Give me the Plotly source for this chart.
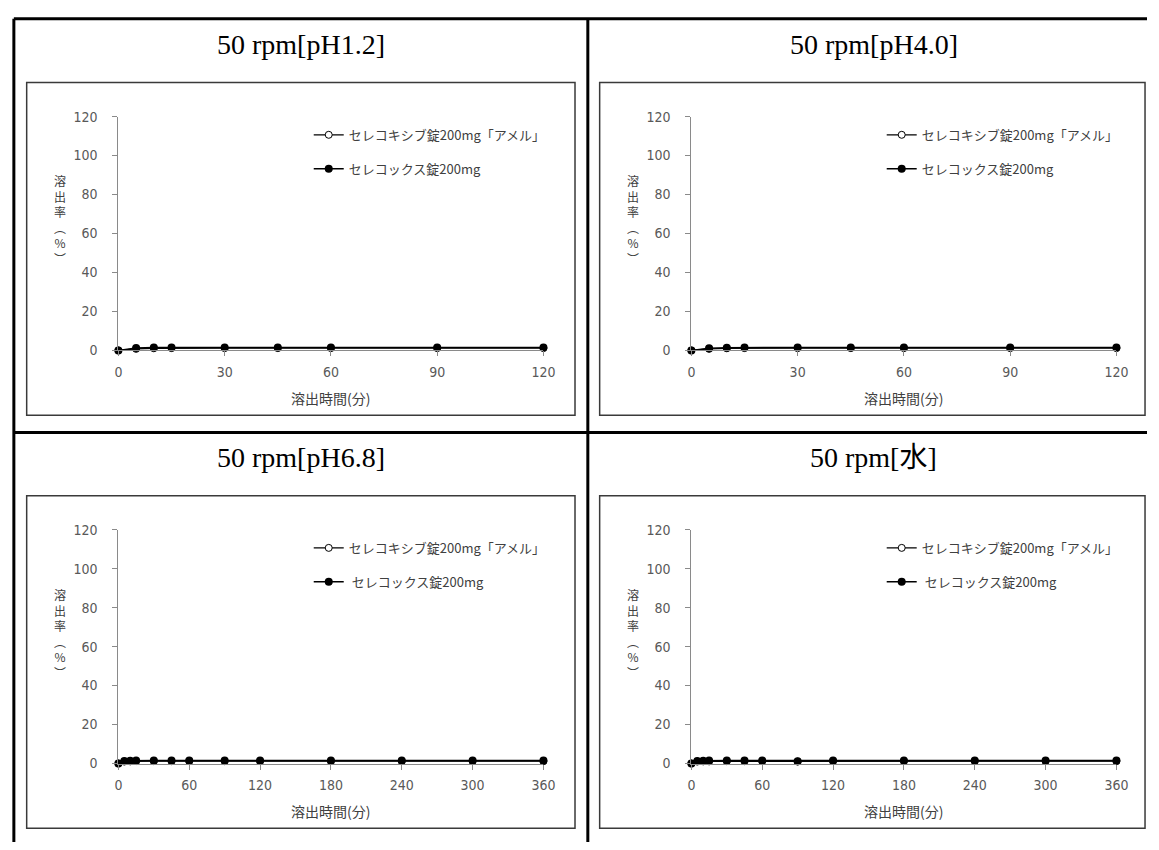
import plotly.graph_objects as go

# ---- data ----
titles = ["50 rpm[pH1.2]", "50 rpm[pH4.0]", "50 rpm[pH6.8]", "50 rpm[水]"]
time_short = [0, 5, 10, 15, 30, 45, 60, 90, 120]
time_long = [0, 5, 10, 15, 30, 45, 60, 90, 120, 180, 240, 300, 360]

test_name = "セレコキシブ錠200mg「アメル」"
ref_names = ["セレコックス錠200mg", "セレコックス錠200mg", " セレコックス錠200mg", " セレコックス錠200mg"]

ph12_test = [0, 0.8, 1.1, 1.2, 1.2, 1.2, 1.2, 1.2, 1.2]
ph12_ref = [0, 1.2, 1.5, 1.5, 1.5, 1.5, 1.5, 1.5, 1.5]
ph40_test = [0, 0.8, 1.1, 1.2, 1.2, 1.2, 1.2, 1.2, 1.2]
ph40_ref = [0, 1.1, 1.4, 1.5, 1.5, 1.5, 1.5, 1.5, 1.5]
ph68_test = [0, 1.0, 1.1, 1.2, 1.2, 1.2, 1.2, 1.2, 1.2, 1.2, 1.2, 1.2, 1.2]
ph68_ref = [0, 1.3, 1.4, 1.5, 1.5, 1.5, 1.5, 1.5, 1.5, 1.5, 1.5, 1.5, 1.5]
water_test = [0, 1.0, 1.1, 1.1, 1.2, 1.2, 1.2, 1.0, 1.2, 1.2, 1.2, 1.2, 1.2]
water_ref = [0, 1.3, 1.4, 1.5, 1.5, 1.5, 1.5, 1.2, 1.5, 1.5, 1.5, 1.5, 1.5]

x_title = "溶出時間(分)"
y_title_chars = ["溶", "出", "率", "︵", "%", "︶"]

W, H = 1159, 850


def px(x):
    return x / W


def py(y):
    return 1 - y / H


panels = [
    dict(t=time_short, a=ph12_test, b=ph12_ref, xmax=120, dtick=30, dx=0, dy=0),
    dict(t=time_short, a=ph40_test, b=ph40_ref, xmax=120, dtick=30, dx=581, dy=0),
    dict(t=time_long, a=ph68_test, b=ph68_ref, xmax=360, dtick=60, dx=0, dy=421),
    dict(t=time_long, a=water_test, b=water_ref, xmax=360, dtick=60, dx=581, dy=421),
]

TICKFONT = dict(family="DejaVu Sans Condensed, Liberation Sans Narrow, Noto Sans CJK JP", size=14, color="#595959")
CJKFONT = "Noto Sans CJK JP"
AXCOL = "#8a8a8a"

fig = go.Figure()
layout = dict(
    width=W, height=H, margin=dict(l=0, r=0, t=0, b=0),
    paper_bgcolor="white", plot_bgcolor="white", showlegend=True,
)
annotations = []
shapes = []

for i, p in enumerate(panels):
    n = i + 1
    sfx = "" if n == 1 else str(n)
    lg = "legend" if n == 1 else f"legend{n}"
    dx, dy = p["dx"], p["dy"]
    fig.add_trace(go.Scatter(
        x=p["t"], y=p["a"], mode="lines+markers", name=test_name,
        xaxis=f"x{sfx}", yaxis=f"y{sfx}", legend=lg, legendgroup=f"a{n}",
        line=dict(color="black", width=1.3),
        marker=dict(symbol="circle", size=7, color="white", line=dict(color="black", width=1)),
        cliponaxis=False,
    ))
    fig.add_trace(go.Scatter(
        x=p["t"], y=p["b"], mode="lines+markers", name=ref_names[i],
        xaxis=f"x{sfx}", yaxis=f"y{sfx}", legend=lg, legendgroup=f"b{n}",
        line=dict(color="black", width=1.6),
        marker=dict(symbol="circle", size=8, color="black"),
        cliponaxis=False,
    ))
    layout[f"xaxis{sfx}"] = dict(
        domain=[px(116 + dx), px(547 + dx)], range=[0, p["xmax"]], dtick=p["dtick"], tick0=0,
        anchor=f"y{sfx}", showline=True, linecolor=AXCOL, linewidth=1,
        ticks="outside", ticklen=5, tickcolor=AXCOL, showgrid=False, zeroline=False,
        tickfont=TICKFONT, ticklabelstandoff=4, fixedrange=True,
    )
    layout[f"yaxis{sfx}"] = dict(
        domain=[py(349 + dy), py(110.7 + dy)], range=[0, 120], dtick=20, tick0=0,
        anchor=f"x{sfx}", showline=True, linecolor=AXCOL, linewidth=1,
        ticks="outside", ticklen=5, tickcolor=AXCOL, showgrid=False, zeroline=False,
        tickfont=TICKFONT, ticklabelstandoff=12, fixedrange=True,
    )
    layout[lg] = dict(
        x=px(309 + dx), y=py(114 + dy), xanchor="left", yanchor="top",
        bgcolor="rgba(0,0,0,0)", borderwidth=0, itemwidth=30, tracegroupgap=14,
        font=dict(family=CJKFONT, size=13, color="#404040"), itemclick=False, itemdoubleclick=False,
    )
    # panel title
    annotations.append(dict(
        text=titles[i], x=px(301 + dx), y=py(37 + dy), xref="paper", yref="paper",
        showarrow=False, xanchor="center", yanchor="middle",
        font=dict(family="Liberation Serif, DejaVu Serif, Noto Sans CJK JP", size=28, color="black"),
    ))
    # x-axis title
    annotations.append(dict(
        text=x_title, x=px(331 + dx), y=py(397 + dy), xref="paper", yref="paper",
        showarrow=False, xanchor="center", yanchor="middle",
        font=dict(family=CJKFONT, size=14, color="#404040"),
    ))
    # y-axis title (vertical writing)
    annotations.append(dict(
        text="<br>".join(y_title_chars), x=px(57 + dx), y=py(216 + dy), xref="paper", yref="paper",
        showarrow=False, xanchor="center", yanchor="middle",
        font=dict(family=CJKFONT, size=12, color="#404040"),
    ))
    # chart box
    right = 579 + dx if dx == 0 else 1157
    shapes.append(dict(type="rect", xref="paper", yref="paper",
                       x0=px(23 + dx), x1=px(right), y0=py(76 + dy), y1=py(415 + dy),
                       line=dict(color="#3a3a3a", width=1.5), fillcolor="rgba(0,0,0,0)", layer="below"))

# table lines
TL = dict(color="black", width=3)
shapes += [
    dict(type="line", xref="paper", yref="paper", x0=px(10), x1=1, y0=py(11), y1=py(11), line=TL),
    dict(type="line", xref="paper", yref="paper", x0=px(10), x1=1, y0=py(432.7), y1=py(432.7), line=TL),
    dict(type="line", xref="paper", yref="paper", x0=px(10), x1=px(10), y0=py(11), y1=0, line=TL),
    dict(type="line", xref="paper", yref="paper", x0=px(592), x1=px(592), y0=py(11), y1=0, line=TL),
]

layout["annotations"] = annotations
layout["shapes"] = shapes
fig.update_layout(**layout)
fig.write_html(
    "out.html",
    config={"displayModeBar": False},
    post_script="document.body.style.margin='0';document.body.style.overflow='hidden';",
)
